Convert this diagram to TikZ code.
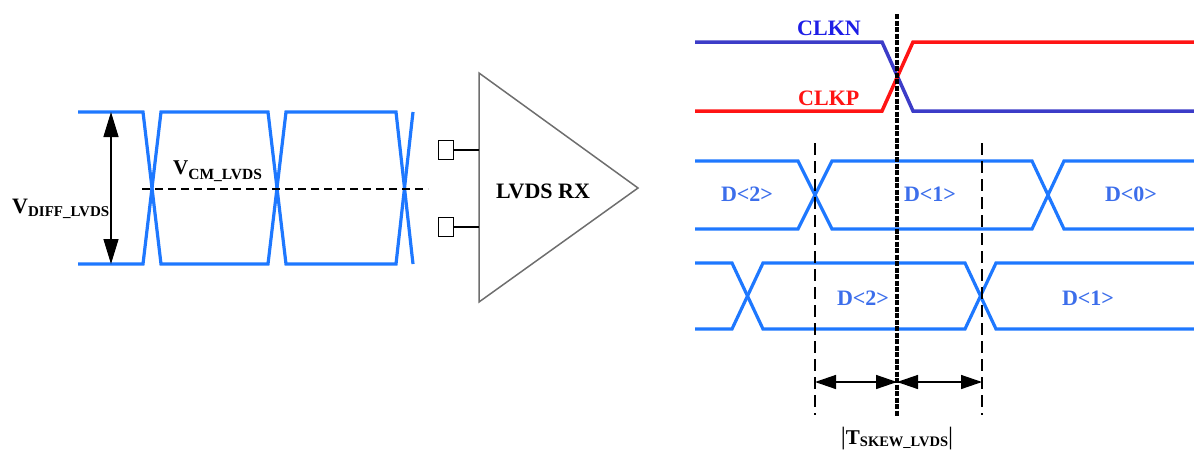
\documentclass[tikz,border=0pt]{standalone}
\usepackage{fontspec}
\setmainfont{Liberation Serif}
\usetikzlibrary{arrows.meta}
\definecolor{wave}{RGB}{30,120,255}
\definecolor{clkn}{RGB}{60,60,200}
\definecolor{clkntext}{RGB}{30,30,230}
\definecolor{clkp}{RGB}{255,20,20}
\definecolor{dlabel}{RGB}{60,110,235}
\definecolor{amp}{RGB}{110,110,110}
\newcommand\myfsz[1]{\fontsize{#1}{#1}\selectfont}
\begin{document}
\begin{tikzpicture}[x=1pt,y=-1pt,
  wavel/.style={wave,line width=3.2pt,line join=miter},
  clkline/.style={line width=3.5pt},
  lbl/.style={inner sep=0pt,anchor=base,font=\bfseries\myfsz{22}},
  dlbl/.style={lbl,text=dlabel},
  dim/.style={line width=1.4pt,{Triangle[length=21pt,width=14pt]}-{Triangle[length=21pt,width=14pt]}},
  thindash/.style={line width=1.2pt,dash pattern=on 12pt off 6pt},
  refline/.style={line width=3.6pt,dash pattern=on 5pt off 1.5pt}]
\useasboundingbox (0,0) rectangle (1194,453);

% ---------- left eye waveform ----------
\draw[wavel] (78,112) -- (143,112) -- (161,264) -- (268,264) -- (286,112) -- (396,112) -- (413,264);
\draw[wavel] (78,264) -- (143,264) -- (161,112) -- (268,112) -- (286,264) -- (396,264) -- (413,112);
\coordinate (cmL) at (142,189);
\coordinate (cmR) at (428,189);
\draw[line width=1.2pt,dash pattern=on 8pt off 5pt] (cmL) -- (cmR);
\coordinate (vtop) at (111,112);
\coordinate (vbot) at (111,264);
\draw[line width=1.4pt,{Triangle[length=25pt,width=15pt]}-{Triangle[length=25pt,width=15pt]}] (vtop) -- (vbot);
\node[inner sep=0pt,anchor=base west,font=\bfseries\myfsz{22}] (vdiff) at (12,213)
  {V\raisebox{-3pt}{\myfsz{15}DIFF\_LVDS}};
\node[inner sep=0pt,anchor=base west,font=\bfseries\myfsz{21}] (vcm) at (173,174)
  {V\raisebox{-5pt}{\myfsz{15.5}CM\_LVDS}};

% ---------- receiver ----------
\coordinate (tA) at (479,73);
\coordinate (tB) at (479,302);
\coordinate (tC) at (638,188);
\draw[amp,line width=1.5pt,line join=miter] (tA) -- (tC) -- (tB) -- cycle;
\node[draw,line width=1.3pt,minimum width=15pt,minimum height=19pt,inner sep=0pt] (inp) at (446,150) {};
\node[draw,line width=1.3pt,minimum width=15pt,minimum height=19pt,inner sep=0pt] (inn) at (446,227) {};
\coordinate (pinp) at (479,150);
\coordinate (pinn) at (479,227);
\draw[line width=1.3pt] (inp.east) -- (pinp);
\draw[line width=1.3pt] (inn.east) -- (pinn);
\node[lbl] (rx) at (543,198) {LVDS RX};

% ---------- clocks ----------
\draw[clkline,clkn] (695,42) -- (882,42) -- (913,111) -- (1194,111);
\draw[clkline,clkp] (695,111) -- (882,111) -- (913,42) -- (1194,42);
\node[lbl,anchor=base west,text=clkntext] (clknl) at (797,35) {CLKN};
\node[lbl,anchor=base west,text=clkp] (clkpl) at (798,105) {CLKP};

% ---------- data rows ----------
\draw[wavel] (695,161) -- (798,161) -- (832,229) -- (1032,229) -- (1064,161) -- (1194,161);
\draw[wavel] (695,229) -- (798,229) -- (832,161) -- (1032,161) -- (1064,229) -- (1194,229);
\draw[wavel] (695,263) -- (732,263) -- (763,329) -- (965,329) -- (996,263) -- (1194,263);
\draw[wavel] (695,329) -- (732,329) -- (763,263) -- (965,263) -- (996,329) -- (1194,329);
\node[dlbl] (d2a) at (747,201) {D<2>};
\node[dlbl] (d1a) at (930,201) {D<1>};
\node[dlbl] (d0a) at (1131,201) {D<0>};
\node[dlbl] (d2b) at (863,305) {D<2>};
\node[dlbl] (d1b) at (1088,305) {D<1>};

% ---------- timing references ----------
\coordinate (l1t) at (815,143);
\coordinate (l1b) at (815,415);
\coordinate (l2t) at (982,143);
\coordinate (l2b) at (982,415);
\draw[thindash] (l1t) -- (l1b);
\draw[thindash] (l2t) -- (l2b);
\coordinate (rt) at (897,14);
\coordinate (rb) at (897,417);
\draw[refline] (rt) -- (rb);
\coordinate (a1) at (815,382);
\coordinate (a2) at (897,382);
\coordinate (a3) at (982,382);
\draw[dim] (a1) -- (a2);
\draw[dim] (a2) -- (a3);
\node[inner sep=0pt,anchor=base,font=\myfsz{21}] (tskew) at (897,444)
  {\myfsz{25}|\myfsz{21}\textbf{T}\raisebox{-2pt}{\bfseries\myfsz{14.5}SKEW\_LVDS}\myfsz{25}|};
\end{tikzpicture}
\end{document}
